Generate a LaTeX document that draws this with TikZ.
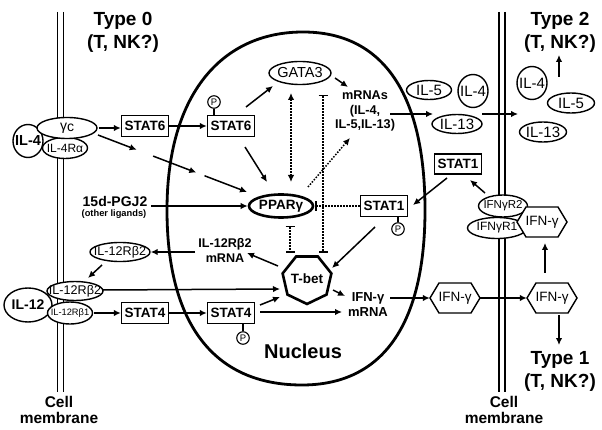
\documentclass[tikz,border=0pt]{standalone}
\usepackage{fontspec}
\setmainfont{Liberation Sans}
\usetikzlibrary{arrows.meta,shapes.geometric,calc}
\newcommand{\cz}[1]{\makebox[0pt][c]{#1}}
\newcommand{\fsz}[1]{\fontsize{#1}{#1}\selectfont}
\newcommand{\hexat}[1]{\draw[hexl] ($(#1)+(-25,0)$) -- ++(9,-15) -- ++(32,0) -- ++(9,15) -- ++(-9,15) -- ++(-32,0) -- cycle;}
\begin{document}
\begin{tikzpicture}[x=1pt,y=-1pt,
  ell/.style={ellipse, draw, line width=1.4pt, fill=white, inner sep=0pt},
  stbox/.style={rectangle, draw, line width=1.4pt, fill=white, inner sep=0pt, minimum width=47pt, minimum height=21pt, font=\bfseries\fsz{13.5}},
  pc/.style={circle, draw, line width=1.1pt, fill=white, inner sep=0pt, minimum size=12.5pt, font=\fsz{9.5}},
  arr/.style={line width=1.5pt, -{Latex[length=7pt,width=6.5pt]}},
  dt/.style={line width=1.5pt, dash pattern=on 1.5pt off 1.5pt},
  lb/.style={align=center, inner sep=1pt},
  memb/.style={line width=1.3pt},
  hexl/.style={line width=1.4pt, fill=white},
  hexn/.style={rectangle, inner sep=0pt, minimum width=50pt, minimum height=30pt, font=\fsz{13.5}}
]
\useasboundingbox (0,0) rectangle (602,430);

% membranes
\draw[memb] (57.5,12) -- (57.5,392) (63.5,12) -- (63.5,392);
\draw[memb] (499,12) -- (499,392) (505,12) -- (505,392);

% nucleus
\draw[line width=2.8pt] (303,32) .. controls (383,32) and (425,94) .. (425,210)
  .. controls (425,324) and (383,385) .. (302,385)
  .. controls (214,385) and (167,324) .. (167,210)
  .. controls (167,94) and (222,32) .. (303,32) -- cycle;

% titles
\node[lb, font=\bfseries\fontsize{19}{23}\selectfont] (Type0) at (123,32) {Type 0\\(T, NK?)};
\node[lb, font=\bfseries\fontsize{19}{23}\selectfont] (Type2) at (560,32) {Type 2\\(T, NK?)};
\node[lb, font=\bfseries\fontsize{19}{23}\selectfont] (Type1) at (560,371) {Type 1\\(T, NK?)};
\node[lb, font=\bfseries\fontsize{15.5}{16.5}\selectfont] (memL) at (59,410) {Cell\\membrane};
\node[lb, font=\bfseries\fontsize{15.5}{16.5}\selectfont] (memR) at (504,410) {Cell\\membrane};
\node[lb, font=\bfseries\fsz{20}] (nuc) at (303,351) {Nucleus};

% left IL-4 receptor
\node[ell, minimum width=30pt, minimum height=33pt, font=\bfseries\fsz{14.5}] (IL4L) at (28,141) {\cz{IL-4}};
\node[ell, minimum width=45pt, minimum height=21pt, font=\fsz{12}] (IL4Ra) at (65,148) {\cz{IL-4Rα}};
\node[ell, minimum width=60pt, minimum height=21pt, font=\fsz{14}] (gc) at (67,128) {\cz{γ\raisebox{-1.5pt}{c}}};

\node[stbox] (STAT6L) at (145,126) {STAT6};
\node[stbox] (STAT6N) at (231,126) {STAT6};
\node[pc] (P6) at (214,102) {P};

\node[ell, minimum width=62pt, minimum height=23pt, font=\fsz{14.5}] (GATA3) at (300,73) {\cz{GATA3}};
\node[lb, font=\bfseries\fontsize{12.7}{14.5}\selectfont] (mRNA6) at (365,111) {mRNAs\\(IL-4,\\IL-5,IL-13)};

% IL-4/5/13
\node[ell, minimum width=45pt, minimum height=19pt, font=\fsz{15}] (IL5a) at (429,90) {\cz{IL-5}};
\node[ell, minimum width=30pt, minimum height=33pt, font=\fsz{15}] (IL4a) at (473,91) {\cz{IL-4}};
\node[ell, minimum width=50pt, minimum height=19pt, font=\fsz{15}] (IL13a) at (457,124) {\cz{IL-13}};
\node[ell, minimum width=30pt, minimum height=33pt, font=\fsz{15}] (IL4b) at (532,83) {\cz{IL-4}};
\node[ell, minimum width=47pt, minimum height=20pt, font=\fsz{15}] (IL5b) at (571,103) {\cz{IL-5}};
\node[ell, minimum width=47pt, minimum height=20pt, font=\fsz{15}] (IL13b) at (543,132) {\cz{IL-13}};

% PPARg and ligands
\node[ell, line width=2.6pt, minimum width=64pt, minimum height=23pt, font=\bfseries\fsz{13.5}] (PPARg) at (281,206) {\cz{PPARγ}};
\node[lb, font=\bfseries\fsz{14}] (PGJa) at (115,201) {15d-PGJ2};
\node[lb, font=\bfseries\fsz{9.3}] (PGJb) at (114,214) {(other ligands)};

% STAT1 / IFN receptor
\node[stbox] (STAT1N) at (384,206) {STAT1};
\node[pc] (P1) at (398,229) {P};
\node[stbox, minimum height=20pt] (STAT1O) at (458,164) {STAT1};
\node[ell, minimum width=49pt, minimum height=22pt, font=\fsz{11.5}] (IFNR2) at (503,206) {\cz{IFNγR2}};
\node[ell, minimum width=59pt, minimum height=21pt, font=\fsz{12}] (IFNR1) at (497,228) {\cz{IFNγR1}};
\coordinate (h1c) at (542,222);
\coordinate (h2c) at (455,298);
\coordinate (h3c) at (552,298);
\hexat{h1c}
\hexat{h2c}
\hexat{h3c}
\node[hexn] (IFNh1) at (h1c) {IFN-γ};
\node[hexn] (IFNh2) at (h2c) {IFN-γ};
\node[hexn] (IFNh3) at (h3c) {IFN-γ};

% T-bet
\node[regular polygon, regular polygon sides=7, shape border rotate=180, draw, line width=2.6pt, fill=white, minimum size=50pt, inner sep=0pt, font=\bfseries\fsz{13.5}] (Tbet) at (307,279) {\cz{T-bet}};

\node[lb, font=\bfseries\fontsize{12.6}{15}\selectfont] (mR12) at (225,250) {IL-12Rβ2\\mRNA};
\node[ell, minimum width=60pt, minimum height=19pt, font=\fsz{12.6}] (IL12Rb2f) at (120,252) {\cz{IL-12Rβ2}};

% IL-12 receptor
\node[ell, minimum width=48pt, minimum height=34pt, font=\bfseries\fsz{14}] (IL12) at (28,305) {\cz{IL-12}};
\node[ell, minimum width=45pt, minimum height=22pt, font=\fsz{9.3}] (IL12Rb1) at (70,313) {\cz{IL-12Rβ1}};
\node[ell, minimum width=56pt, minimum height=19pt, font=\fsz{12.6}] (IL12Rb2) at (75,291) {\cz{IL-12Rβ2}};

\node[stbox] (STAT4L) at (145,313) {STAT4};
\node[stbox] (STAT4N) at (231,313) {STAT4};
\node[pc] (P4) at (243,338) {P};
\node[lb, font=\bfseries\fontsize{13}{15}\selectfont] (mRIFN) at (368,305) {IFN-γ\\mRNA};

% phosphate links
\draw[line width=1.1pt] (P6.south) -- (P6.south |- STAT6N.north);
\draw[line width=1.1pt] (P1.north) -- (P1.north |- STAT1N.south);
\draw[line width=1.1pt] (P4.north) -- (P4.north |- STAT4N.south);

% arrows
\draw[arr, shorten <=1pt] (gc.east) -- (gc.east -| STAT6L.west);
\coordinate (gA) at ($(gc)+(31,7)$);
\coordinate (pA) at ($(PPARg)+(-34,-14)$);
\draw[arr] (gA) -- ($(gA)!0.26!(pA)$);
\draw[arr] ($(gA)!0.37!(pA)$) -- ($(gA)!0.66!(pA)$);
\draw[arr] ($(gA)!0.715!(pA)$) -- (pA);
\draw[arr] (STAT6L) -- (STAT6N);
\draw[arr] ($(STAT6N)+(15,-19)$) -- ($(GATA3)+(-27,13)$);
\draw[arr] ($(STAT6N)+(14,21)$) -- ($(PPARg)+(-14,-24)$);
\draw[arr] ($(GATA3)+(35,5)$) -- ($(mRNA6)+(-17,-24)$);
\draw[arr] ($(mRNA6)+(25,3)$) -- ($(IL13a)+(-24,-10)$);
\draw[arr] ($(IL13a)+(25,-10)$) -- ($(IL13b)+(-25,-18)$);
\draw[arr] ($(IL5b)+(-12,-26)$) -- ($(Type2)+(-1,23)$);
\draw[arr, shorten <=3pt] (PGJa.east |- PPARg.west) -- (PPARg.west);
\draw[arr] ($(STAT1O)+(-11,14)$) -- ($(STAT1N)+(29,-1)$);
\draw[arr] ($(IFNR2)+(-18,-13)$) -- ($(STAT1O)+(12,16)$);
\draw[arr] ($(IFNh3)+(-7,-25)$) -- ($(IFNh1)+(3,21)$);
\draw[arr] ($(STAT1N)+(-9,21)$) -- ($(Tbet)+(25,-11)$);
\draw[arr] ($(Tbet)+(-29,-13)$) -- ($(mR12)+(22,3)$);
\draw[arr] ($(mR12)+(-30,2)$) -- (IL12Rb2f.east);
\draw[arr] ($(IL12Rb2f)+(-18,13)$) -- ($(IL12Rb2)+(13,-13)$);
\draw[arr] ($(IL12Rb2)+(28,-1)$) -- ($(Tbet)+(-27,10)$);
\draw[arr, shorten <=1pt] (IL12Rb1.east) -- (IL12Rb1.east -| STAT4L.west);
\draw[arr] (STAT4L) -- (STAT4N);
\draw[arr] ($(STAT4N)+(29,-8)$) -- ($(Tbet)+(-27,18)$);
\draw[arr] ($(STAT4N)+(29,-1)$) -- ($(mRIFN)+(-26,7)$);
\draw[arr] ($(Tbet)+(26,11)$) -- ($(mRIFN)+(-23,-9)$);
\draw[arr] ($(mRIFN)+(22,-7)$) -- (IFNh2.west);
\draw[arr] (IFNh2.east) -- (IFNh3.west);
\draw[arr] ($(IFNh3)+(7,17)$) -- ($(Type1)+(-1,-26)$);

% dotted interactions
\draw[dt, {Latex[length=7pt,width=6.5pt]}-{Latex[length=7pt,width=6.5pt]}] ($(GATA3)+(-9,20)$) -- ($(PPARg)+(10,-24)$);
\draw[dt, {Bar[width=9pt]}-{Bar[width=9pt]}] ($(GATA3)+(23,22)$) -- ($(Tbet)+(16,-26)$);
\draw[dt, {Bar[width=9pt]}-{Bar[width=9pt]}] ($(PPARg)+(9,20)$) -- ($(Tbet)+(-17,-26)$);
\draw[dt, -{Bar[width=10pt]}] (STAT1N.west) -- ($(PPARg)+(34,0)$);
\draw[dt, -{Latex[length=7pt,width=6.5pt]}] ($(PPARg)+(27,-19)$) -- ($(mRNA6)+(-15,27)$);
\end{tikzpicture}
\end{document}
